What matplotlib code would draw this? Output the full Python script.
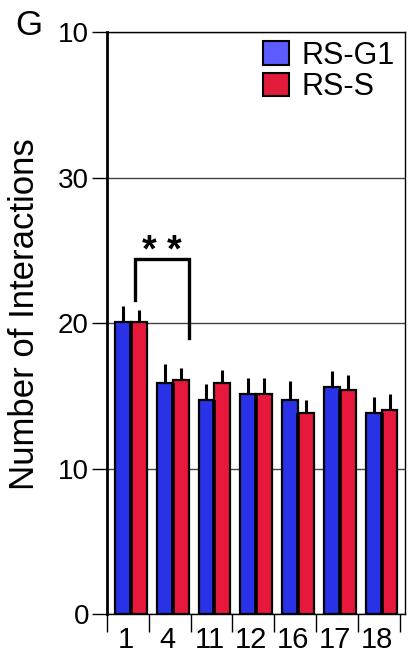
import matplotlib
matplotlib.use("Agg")
import matplotlib.pyplot as plt
from matplotlib.patches import Patch
import numpy as np

plt.rcParams['font.family'] = ['Liberation Sans', 'DejaVu Sans']

groups = ['1', '4', '11', '12', '16', '17', '18']
rs_g1 = [20.1, 15.9, 14.7, 15.1, 14.7, 15.6, 13.8]
rs_s = [20.1, 16.1, 15.9, 15.1, 13.8, 15.4, 14.0]
rs_g1_err = [1.1, 1.3, 1.1, 1.1, 1.3, 1.1, 1.1]
rs_s_err = [0.8, 0.8, 0.9, 1.1, 0.9, 1.0, 1.1]
y_ticks = [0, 10, 20, 30, 40]
y_ticklabels = ['0', '10', '20', '30', '10']

blue = '#2a32e8'
red = '#e8183c'

fig = plt.figure(figsize=(4.08, 6.55), dpi=100)
ax = fig.add_axes([107/408, 1 - 614/655, 298/408, 582/655])

x = np.arange(len(groups))
w = 0.38
ax.bar(x + 0.19, rs_g1, width=w, align='edge', color=blue,
       edgecolor='black', linewidth=1.6, zorder=3)
ax.bar(x + 0.19 + w, rs_s, width=w, align='edge', color=red,
       edgecolor='black', linewidth=1.6, zorder=3)
# dark divider between the paired bars
ax.vlines(x + 0.19 + w, 0, np.minimum(rs_g1, rs_s), color='black', lw=2.6, zorder=4)
# upward-only error bars
ax.errorbar(x + 0.19 + w/2, rs_g1, yerr=[np.zeros(len(x)), rs_g1_err],
            fmt='none', ecolor='black', elinewidth=2.2, capsize=0, zorder=4)
ax.errorbar(x + 0.19 + 1.5*w, rs_s, yerr=[np.zeros(len(x)), rs_s_err],
            fmt='none', ecolor='black', elinewidth=2.2, capsize=0, zorder=4)

# significance bracket
ax.plot([0.67, 0.67, 1.96, 1.96], [21.6, 24.4, 24.4, 19.0],
        color='black', lw=2.4, zorder=5, solid_joinstyle='miter')
ax.text(1.32, 24.85, '* *', ha='center', va='center', fontsize=27,
        fontweight='bold')

ax.set_xlim(0, 7.13)
ax.set_ylim(0, 40)
ax.set_yticks(y_ticks)
ax.set_yticklabels(y_ticklabels, fontsize=20)
ax.tick_params(axis='y', length=11, width=1, pad=2)
ax.set_xticks(x + 0.45)
ax.set_xticklabels(groups, fontsize=21)
ax.set_xticks(np.arange(len(groups) + 1), minor=True)
ax.tick_params(axis='x', which='major', length=0, pad=9)
ax.tick_params(axis='x', which='minor', length=13, width=1)
ax.grid(axis='y', color='#444444', lw=1, zorder=1)

for s in ['top', 'right', 'bottom']:
    ax.spines[s].set_linewidth(1)
ax.spines['left'].set_linewidth(2)

ax.set_ylabel('Number of Interactions', fontsize=25)
ax.yaxis.set_label_coords(-0.22, 0.515)
fig.text(15/408, 1 - 35/655, 'G', fontsize=25)

handles = [Patch(facecolor='#5b5bff', edgecolor='black', lw=1.5),
           Patch(facecolor='#e11b3a', edgecolor='black', lw=1.5)]
ax.legend(handles, ['RS-G1', 'RS-S'], loc='upper left',
          bbox_to_anchor=(0.523, 0.985), frameon=False, fontsize=22,
          handlelength=0.85, handleheight=0.8, labelspacing=0.05,
          handletextpad=0.4, borderpad=0, borderaxespad=0)

fig.savefig('out.png', dpi=100)
